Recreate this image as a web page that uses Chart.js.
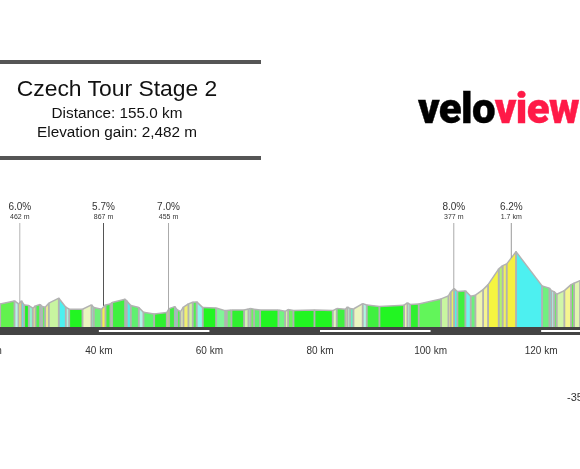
<!DOCTYPE html>
<html><head><meta charset="utf-8">
<script src="https://cdn.jsdelivr.net/npm/chart.js@4"></script>
<style>
html,body{margin:0;padding:0;background:#fff;width:580px;height:469px;overflow:hidden;font-family:"Liberation Sans",Arial,sans-serif}
#wrap{position:absolute;left:0;top:0;width:580px;height:469px;overflow:hidden}
#c{position:absolute;left:-67.2px;top:0}
.t{position:absolute;left:0;width:234px;text-align:center;color:#111;white-space:nowrap}
.rule{position:absolute;left:0;width:261px;height:4px;background:#555}
#logo{position:absolute;left:418px;top:84px;font:900 42px Roboto,sans-serif;letter-spacing:-0.6px;color:#000;white-space:nowrap;-webkit-text-stroke:0.4px currentColor}
#logo span{color:#ff1a47}
#leg{position:absolute;left:567px;top:391px;font-size:11px;color:#333;white-space:nowrap}
</style></head><body>
<div id="wrap">
<canvas id="c" width="774" height="469" style="width:774px;height:469px"></canvas>
<div class="rule" style="top:60px"></div>
<div class="t" style="top:74px;font-size:22.9px;line-height:28px">Czech Tour Stage 2</div>
<div class="t" style="top:103px;font-size:15.3px;line-height:20px">Distance: 155.0 km</div>
<div class="t" style="top:122px;font-size:15.3px;line-height:20px">Elevation gain: 2,482 m</div>
<div class="rule" style="top:156px"></div>
<div id="logo">velo<span>viewer</span></div>
<div id="leg">-35</div>
</div>
<script>
const distanceKm=[22.15,24.74,25.47,26.0,26.49,27.33,28.06,28.54,29.38,29.74,30.29,30.95,32.76,34.02,34.63,37.04,38.67,39.09,40.47,41.2,42.1,42.4,44.75,45.05,45.78,47.23,48.07,50.0,52.29,52.71,53.74,54.16,54.76,55.3,56.2,56.99,57.7,
58.8,61.21,62.84,63.14,63.98,66.27,67.06,67.42,68.08,69.17,72.48,73.69,74.23,75.2,79.0,82.31,83.03,84.6,84.96,85.44,86.05,87.73,88.46,90.75,
95.21,95.81,96.3,97.86,101.9,103.23,103.65,104.25,104.85,106.3,107.27,108.11,109.5,110.4,112.33,113.05,113.78,115.46,120.17,121.49,121.85,122.34,122.82,124.2,125.41,125.95,127.04];
const elevationM=[234,264,234,264,224,217,191,214,228,207,201,241,291,201,181,181,224,197,181,224,234,247,281,264,217,197,151,134,147,187,207,177,157,201,234,251,254,
197,193,167,167,173,173,183,187,180,173,173,160,177,167,173,167,187,180,203,187,183,237,223,207,
221,244,228,234,284,314,354,387,357,364,311,321,377,427,584,617,634,757,414,391,367,357,331,367,427,441,467];
const segmentColors=["#62F24E","#B8F5E8","#F5F060","#4DF0F0","#22F022","#90F0D0","#F5F080","#50F050","#80F0D0","#60F060","#F0F090","#C8F5A0","#4DF0F0","#B0F0E0","#22F522","#EAF5C0","#90F0C0","#70F078","#F5F050","#40F040","#EAF5A0","#40F040","#C0F0C0","#50F0E8","#60F070","#B0F5E8","#5CF56C","#30F030","#E8F060","#40F040","#60F0E8","#50F050","#E8F5B0","#F0F070","#D0F5A0","#50F050",
"#90F5F0","#22F522","#80F598","#C8F5C0","#70F070","#30F030","#D0F5B0","#B0F5E0","#70F060","#60F070","#22F522","#70F580","#D8F5A8","#70F060","#22F522","#22F522","#E0F5C0","#40F040","#EEF090","#C0F0D0","#60F0C0","#EAF5C0","#B0F5E0","#40F040",
"#22F522","#EEF5B0","#B0F0D8","#30F030","#62F55A","#C8F5A0","#EEF090","#E8F060","#50F0E8","#40F040","#70F5F0","#6CF07C","#F0F5B0","#F5F590","#F5F540","#B0F070","#F0F060","#F5F040","#4DF0F0","#70F080","#50F0F0","#B0F5F0","#60F060","#D0F5A8","#F5F590","#60F050","#E0F5B0"];
const climbKm=[25.7,40.84,52.6,104.2,114.6];
const climbBase=[247,215,170,387,695];
const climbTop=[1043,1043,1043,1043,1043];
const climbGrade=["6.0%","5.7%","7.0%","8.0%","6.2%"];
const climbLength=["462 m","867 m","455 m","377 m","1.7 km"];
const climbColor=["#b4b4b4","#555555","#aaaaaa","#aaaaaa","#999999"];
const tickKm=[20,40,60,80,100,120,140];
const stripeStart=[40,80,120];
const stripeEnd=[60,100,140];
const bandLevel=-38;

const pts=distanceKm.map((x,i)=>({x,y:elevationM[i]}));
const datasets=[
 {type:'line',data:pts,fill:'origin',borderColor:'#b2b2b2',borderWidth:1.5,pointRadius:0,tension:0,order:9,
  segment:{backgroundColor:c=>segmentColors[c.p0DataIndex]}},
 {type:'bar',data:pts,backgroundColor:'#b2b2b2',barThickness:1.2,order:8},
 {type:'line',data:[{x:10,y:bandLevel},{x:150,y:bandLevel}],borderColor:'#444444',borderWidth:8,pointRadius:0,order:7},
 ...stripeStart.map((s,i)=>({type:'line',data:[{x:s,y:bandLevel},{x:stripeEnd[i],y:bandLevel}],borderColor:'#ffffff',borderWidth:2,pointRadius:0,order:6})),
 ...climbKm.map((k,i)=>({type:'line',data:[{x:k,y:climbBase[i]},{x:k,y:climbTop[i]}],borderColor:climbColor[i],borderWidth:1,pointRadius:0,order:5}))
];
const climbLabels={id:'climbLabels',afterDatasetsDraw(ch){
 const g=ch.ctx,xs=ch.scales.x,ys=ch.scales.y;
 g.save();g.textAlign='center';g.textBaseline='middle';
 climbKm.forEach((k,i)=>{
  const px=xs.getPixelForValue(k),py=ys.getPixelForValue(climbTop[i]);
  g.fillStyle='#333';g.font='10px "Liberation Sans",Arial,sans-serif';
  g.fillText(climbGrade[i],px,py-16);
  g.font='7px "Liberation Sans",Arial,sans-serif';
  g.fillText(climbLength[i],px,py-6);
 });
 g.restore();
}};
new Chart(document.getElementById('c'),{
 type:'line',
 data:{datasets},
 plugins:[climbLabels],
 options:{responsive:false,animation:false,
  layout:{padding:0},
  plugins:{legend:{display:false},tooltip:{enabled:false}},
  scales:{
   x:{type:'linear',min:10,max:150,offset:false,grid:{display:false,offset:false},border:{display:false},
    afterBuildTicks:s=>{s.ticks=tickKm.map(value=>({value}));},
    afterFit:s=>{s.height=132.7;},
    ticks:{autoSkip:false,maxRotation:0,padding:1,color:'#333',font:{family:'"Liberation Sans",Arial,sans-serif',size:10},callback:v=>v+' km'}},
   y:{type:'linear',display:false,min:-90,max:3273}
  }}
});
</script>
</body></html>
